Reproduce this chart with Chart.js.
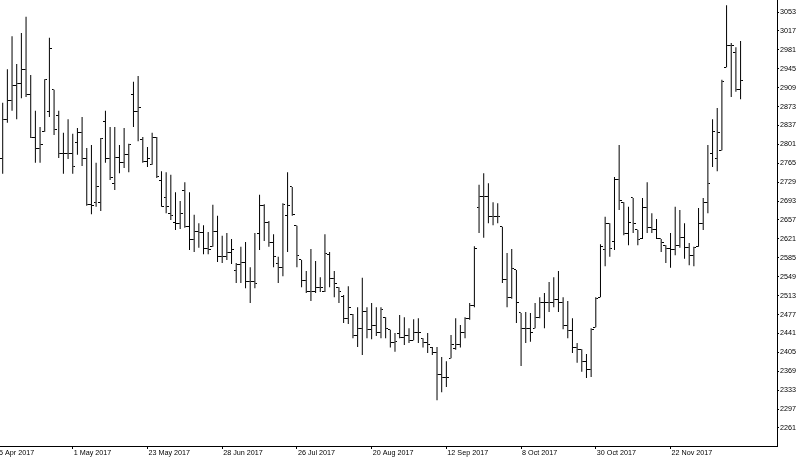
<!DOCTYPE html>
<html><head><meta charset="utf-8">
<script src="https://cdn.jsdelivr.net/npm/chart.js@4.4.0/dist/chart.umd.min.js"></script>
<style>html,body{margin:0;padding:0;background:#fff;overflow:hidden}#wrap{width:800px;height:458px;position:relative}</style>
</head><body><div id="wrap"><canvas id="c" width="800" height="458"></canvas></div>
<script>
const highs=[2880,2944,3007,2954,3013,3044,2933,2865,2834,2925,3004,2905,2865,2823,2849,2821,2832,2853,2794,2800,
2766,2813,2865,2834,2834,2800,2832,2802,2920,2931,2815,2796,2823,2815,2750,2748,2743,2710,2693,2729,
2710,2667,2651,2647,2634,2686,2665,2627,2632,2621,2575,2606,2615,2567,2632,2705,2687,2655,2630,2587,
2689,2748,2720,2646,2581,2560,2602,2579,2548,2630,2596,2560,2529,2514,2531,2478,2491,2547,2491,2499,
2491,2491,2472,2448,2442,2476,2472,2451,2468,2470,2432,2442,2415,2415,2396,2388,2438,2470,2457,2472,
2499,2607,2724,2746,2727,2691,2689,2644,2594,2602,2562,2480,2482,2480,2499,2510,2518,2539,2548,2560,
2510,2503,2470,2423,2411,2402,2451,2510,2611,2663,2651,2739,2800,2691,2682,2699,2638,2699,2729,2670,
2659,2621,2609,2632,2682,2676,2651,2613,2606,2680,2699,2800,2849,2870,2924,3066,2994,2986,2998];
const lows=[2745,2842,2865,2849,2889,2891,2813,2766,2766,2825,2853,2819,2775,2745,2773,2745,2781,2760,2684,2668,
2682,2674,2766,2733,2714,2746,2756,2748,2834,2807,2766,2758,2762,2737,2682,2670,2657,2638,2640,2642,
2600,2596,2604,2592,2592,2606,2577,2575,2581,2573,2537,2537,2527,2499,2527,2600,2617,2606,2567,2537,
2550,2596,2665,2567,2529,2518,2503,2518,2520,2520,2529,2510,2499,2461,2459,2432,2415,2400,2432,2430,
2436,2432,2432,2414,2406,2432,2419,2423,2428,2423,2414,2404,2400,2314,2329,2339,2394,2410,2414,2432,
2467,2491,2632,2623,2651,2647,2651,2537,2491,2507,2461,2379,2423,2425,2451,2470,2451,2482,2491,2482,
2449,2432,2404,2385,2368,2356,2358,2453,2510,2569,2587,2600,2676,2628,2609,2632,2609,2621,2632,2632,
2621,2596,2575,2566,2590,2604,2583,2571,2569,2606,2638,2670,2758,2750,2790,2948,2891,2901,2887];
const opens=[2775,2849,2885,2914,2916,2944,2895,2815,2794,2825,2863,2905,2855,2784,2784,2784,2804,2823,2775,2686,
2690,2690,2845,2775,2727,2776,2766,2781,2895,2863,2811,2768,2762,2815,2733,2699,2670,2653,2651,2714,
2644,2619,2636,2634,2602,2606,2636,2587,2587,2596,2560,2573,2577,2539,2539,2632,2684,2653,2615,2575,
2566,2665,2720,2646,2581,2541,2520,2520,2529,2520,2592,2545,2529,2511,2470,2478,2438,2451,2482,2449,
2457,2442,2472,2448,2423,2440,2434,2438,2428,2442,2432,2423,2415,2404,2362,2358,2394,2412,2419,2442,
2470,2495,2680,2701,2701,2663,2663,2644,2543,2510,2562,2480,2451,2451,2451,2472,2500,2500,2500,2505,
2500,2457,2446,2415,2410,2387,2373,2453,2510,2600,2651,2617,2735,2691,2632,2699,2638,2621,2680,2642,
2638,2621,2609,2602,2600,2609,2623,2604,2590,2606,2651,2691,2783,2775,2790,2948,2990,2975,2905];
const closes=[2849,2885,2914,2916,2944,2895,2815,2794,2800,2924,2983,2830,2784,2784,2784,2758,2823,2775,2686,2684,
2720,2813,2775,2737,2776,2766,2781,2800,2863,2872,2768,2775,2815,2739,2682,2682,2665,2651,2670,2644,
2619,2636,2634,2602,2600,2636,2587,2587,2596,2600,2573,2577,2539,2539,2537,2684,2653,2615,2587,2566,
2686,2684,2667,2590,2541,2520,2520,2529,2529,2594,2545,2537,2520,2470,2491,2438,2451,2482,2449,2457,
2442,2487,2451,2423,2425,2434,2438,2428,2442,2442,2423,2419,2404,2362,2358,2358,2419,2419,2442,2470,
2495,2602,2701,2701,2663,2663,2663,2543,2510,2564,2500,2451,2451,2442,2472,2500,2500,2500,2505,2500,
2457,2446,2415,2410,2387,2373,2448,2508,2607,2651,2602,2735,2695,2632,2653,2651,2619,2680,2642,2638,
2621,2615,2602,2600,2609,2623,2604,2590,2604,2651,2691,2727,2825,2823,2920,2990,2990,2905,2922];
const priceTicks=[2261,2297,2333,2369,2405,2441,2477,2513,2549,2585,2621,2657,2693,2729,2765,2801,2837,2873,2909,2945,2981,3017,3053];
const dateLabels=['5 Apr 2017','1 May 2017','23 May 2017','28 Jun 2017','26 Jul 2017','20 Aug 2017','12 Sep 2017','8 Oct 2017','30 Oct 2017','22 Nov 2017'];
const dateBars=[-1,15,31,47,63,79,95,111,127,143];

function tickImage(left){
  const c=document.createElement('canvas');c.width=5;c.height=1;
  const g=c.getContext('2d');g.fillStyle='#000';g.fillRect(left?0:3,0,2,1);return c;
}
const rangeData=highs.map((h,i)=>({x:i,y:[lows[i],h]}));
const openData=opens.map((v,i)=>({x:i,y:v}));
const closeData=closes.map((v,i)=>({x:i,y:v}));
const font={family:'Liberation Sans',size:7.2};

new Chart(document.getElementById('c'),{
  type:'bar',
  data:{datasets:[
    {type:'bar',data:rangeData,backgroundColor:'#000',borderWidth:0,barThickness:1,inflateAmount:0},
    {type:'scatter',data:openData,pointStyle:tickImage(true),pointRadius:2,pointHoverRadius:0,pointBorderWidth:0,showLine:false},
    {type:'scatter',data:closeData,pointStyle:tickImage(false),pointRadius:2,pointHoverRadius:0,pointBorderWidth:0,showLine:false}
  ]},
  options:{
    responsive:false,animation:false,devicePixelRatio:1,events:[],
    layout:{padding:0,autoPadding:false},
    plugins:{legend:{display:false},tooltip:{enabled:false}},
    scales:{
      x:{type:'linear',min:-0.578,max:165.8,offset:false,
        afterFit:s=>{s.height=12;s.paddingLeft=0;s.paddingRight=0;},
        afterBuildTicks:s=>{s.ticks=dateBars.map(v=>({value:v}));},
        grid:{offset:false,drawOnChartArea:false,drawTicks:true,tickLength:3,color:'#000',lineWidth:1},
        border:{display:true,color:'#000',width:1},
        ticks:{align:'start',labelOffset:1,padding:0,autoSkip:false,maxRotation:0,minRotation:0,font:font,color:'#000',
          callback:(v)=>{const k=dateBars.indexOf(v);return k>=0?dateLabels[k]:'';}}
      },
      y:{type:'linear',position:'right',min:2226.7,max:3075.85,
        afterFit:s=>{s.width=23;s.paddingTop=0;s.paddingBottom=0;},
        afterBuildTicks:s=>{s.ticks=priceTicks.map(v=>({value:v}));},
        grid:{drawOnChartArea:false,drawTicks:true,tickLength:2,color:'#000',lineWidth:1},
        border:{display:true,color:'#000',width:1},
        ticks:{padding:1,font:font,color:'#000',callback:(v)=>String(v)}
      }
    }
  }
});
</script></body></html>
